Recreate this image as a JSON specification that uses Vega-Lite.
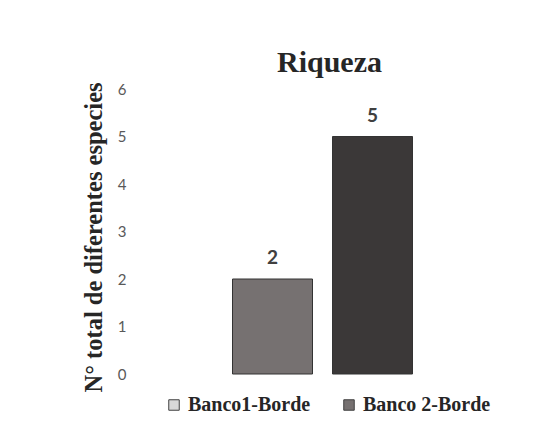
{
  "$schema": "https://vega.github.io/schema/vega-lite/v6.json",
  "width": 375,
  "height": 285,
  "autosize": "none",
  "padding": {"left": 135, "top": 89, "right": 37, "bottom": 57},
  "background": "white",
  "config": {"view": {"stroke": null}},
  "title": {
    "text": "Riqueza",
    "font": "Liberation Serif",
    "fontSize": 30,
    "fontWeight": "bold",
    "color": "#262626",
    "frame": "group",
    "baseline": "alphabetic",
    "offset": -20,
    "dx": 7
  },
  "data": {
    "values": [
      {"serie": "Banco1-Borde", "valor": 2},
      {"serie": "Banco 2-Borde", "valor": 5}
    ]
  },
  "encoding": {
    "x": {
      "field": "serie",
      "type": "nominal",
      "scale": {"domain": ["Banco1-Borde", "Banco 2-Borde"], "paddingInner": 0.2, "paddingOuter": 0.975},
      "axis": null
    },
    "y": {
      "field": "valor",
      "type": "quantitative",
      "scale": {"domain": [0, 6], "nice": false},
      "axis": {
        "title": "N° total de diferentes especies",
        "titleFont": "Liberation Serif",
        "titleFontSize": 24.5,
        "titleFontWeight": "bold",
        "titleColor": "#262626",
        "titleX": -34,
        "titleY": 148,
        "titleBaseline": "alphabetic",
        "titleAngle": -90,
        "values": [0, 1, 2, 3, 4, 5, 6],
        "labelOverlap": false,
        "domain": false,
        "ticks": false,
        "grid": false,
        "labelFont": "Lato",
        "labelFontSize": 15,
        "labelColor": "#595959",
        "labelPadding": 9
      }
    }
  },
  "layer": [
    {
      "mark": {"type": "bar", "stroke": "#333333", "strokeWidth": 1},
      "encoding": {
        "color": {
          "field": "serie",
          "type": "nominal",
          "scale": {"domain": ["Banco1-Borde", "Banco 2-Borde"], "range": ["#767171", "#3b3838"]},
          "legend": null
        }
      }
    },
    {
      "mark": {"type": "text", "baseline": "bottom", "dy": -11, "font": "Lato", "fontSize": 19, "fontWeight": "bold", "color": "#404040"},
      "encoding": {"text": {"field": "valor", "type": "quantitative"}}
    },
    {
      "mark": {"type": "square", "size": 0, "filled": true},
      "encoding": {
        "color": {
          "field": "serie",
          "type": "nominal",
          "scale": {"domain": ["Banco1-Borde", "Banco 2-Borde"], "range": ["#d9d9d9", "#767171"]},
          "legend": {
            "title": null,
            "orient": "none",
            "direction": "horizontal",
            "legendX": 29,
            "legendY": 306,
            "padding": 0,
            "symbolType": "square",
            "symbolSize": 110,
            "symbolOpacity": 1,
            "symbolStrokeColor": "#404040",
            "symbolStrokeWidth": 1,
            "labelFont": "Liberation Serif",
            "labelFontSize": 20,
            "labelFontWeight": "bold",
            "labelColor": "#262626",
            "labelOffset": 4,
            "labelLimit": 300,
            "columnPadding": 28
          }
        }
      }
    }
  ],
  "resolve": {"scale": {"color": "independent"}, "legend": {"color": "independent"}}
}
